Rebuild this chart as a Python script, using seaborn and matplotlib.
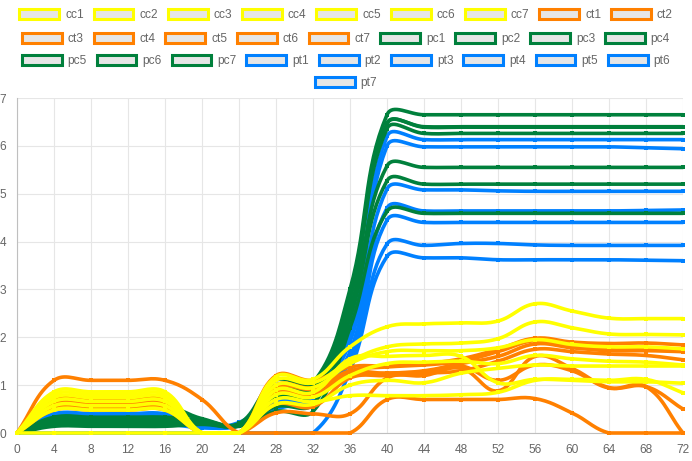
import numpy as np
import pandas as pd
import matplotlib
matplotlib.use("Agg")
import matplotlib.pyplot as plt
from matplotlib.patches import Patch
import seaborn as sns

# sampling hours (x axis)
hours = [0, 4, 8, 12, 16, 20, 24, 28, 32, 36, 40, 44, 48, 52, 56, 60, 64, 68, 72]

# cc series (yellow)
cc1 = [0, 0.86, 0.86, 0.86, 0.86, 0, 0, 1.18, 1.12, 1.80, 2.22, 2.28, 2.30, 2.34, 2.70, 2.55, 2.40, 2.39, 2.39]
cc2 = [0, 0.80, 0.80, 0.80, 0.80, 0, 0, 1.10, 1.05, 1.50, 1.80, 1.86, 1.88, 1.97, 2.32, 2.20, 2.07, 2.06, 2.05]
cc3 = [0, 0.74, 0.74, 0.74, 0.74, 0, 0, 1.00, 0.95, 1.45, 1.70, 1.72, 1.72, 1.78, 1.95, 1.85, 1.80, 1.80, 1.76]
cc4 = [0, 0.66, 0.66, 0.66, 0.66, 0, 0, 0.80, 0.75, 1.20, 1.45, 1.48, 1.50, 1.45, 1.62, 1.55, 1.50, 1.48, 1.42]
cc5 = [0, 0.57, 0.57, 0.57, 0.57, 0, 0, 0.90, 0.85, 1.55, 1.60, 1.62, 1.60, 1.05, 1.12, 1.10, 1.07, 1.07, 1.04]
cc6 = [0, 0.48, 0.48, 0.48, 0.48, 0, 0, 0.70, 0.65, 0.78, 0.78, 0.78, 0.80, 0.85, 1.10, 1.12, 1.10, 1.12, 0.84]
cc7 = [0, 0, 0, 0, 0, 0, 0, 0.60, 0.60, 1.00, 1.10, 1.05, 1.25, 1.35, 1.42, 1.40, 1.40, 1.40, 1.40]

# ct series (orange)
ct1 = [0, 1.10, 1.10, 1.10, 1.10, 0.70, 0, 0, 0, 0, 0.70, 0.70, 0.70, 0.70, 0.72, 0.42, 0, 0, 0]
ct2 = [0, 0.66, 0.66, 0.66, 0.66, 0, 0, 0.42, 0.40, 0.40, 1.15, 1.20, 1.35, 0.88, 1.60, 1.35, 0.95, 0.97, 0.50]
ct3 = [0, 0.62, 0.62, 0.62, 0.62, 0, 0, 0.95, 0.92, 1.20, 1.25, 1.28, 1.40, 1.10, 1.42, 1.30, 0.94, 0.97, 0]
ct4 = [0, 0.57, 0.57, 0.57, 0.57, 0, 0, 1.20, 1.10, 1.38, 1.40, 1.45, 1.55, 1.75, 1.98, 1.90, 1.87, 1.88, 1.84]
ct5 = [0, 0.52, 0.52, 0.52, 0.52, 0, 0, 1.00, 0.95, 1.30, 1.38, 1.42, 1.50, 1.70, 1.93, 1.82, 1.75, 1.76, 1.73]
ct6 = [0, 0.72, 0.72, 0.72, 0.72, 0, 0, 0.85, 0.80, 1.25, 1.25, 1.30, 1.45, 1.60, 1.86, 1.78, 1.72, 1.72, 1.70]
ct7 = [0, 0.48, 0.48, 0.48, 0.48, 0, 0, 0.60, 0.55, 1.15, 1.20, 1.25, 1.30, 1.50, 1.75, 1.70, 1.65, 1.62, 1.53]

# pc series (green)
pc1 = [0, 0.58, 0.58, 0.58, 0.58, 0.30, 0.20, 1.10, 1.05, 3.00, 6.65, 6.65, 6.65, 6.65, 6.65, 6.65, 6.65, 6.65, 6.65]
pc2 = [0, 0.53, 0.53, 0.53, 0.53, 0.28, 0.18, 1.00, 0.95, 2.90, 6.47, 6.39, 6.39, 6.39, 6.39, 6.39, 6.39, 6.39, 6.39]
pc3 = [0, 0.29, 0.29, 0.29, 0.29, 0.25, 0.17, 0.90, 0.90, 2.80, 6.36, 6.26, 6.26, 6.26, 6.26, 6.26, 6.26, 6.26, 6.26]
pc4 = [0, 0.24, 0.24, 0.24, 0.24, 0.22, 0.16, 0.75, 0.80, 2.60, 5.58, 5.55, 5.55, 5.55, 5.55, 5.55, 5.55, 5.55, 5.55]
pc5 = [0, 0.19, 0.19, 0.19, 0.19, 0.20, 0.15, 0.55, 0.60, 2.40, 5.27, 5.20, 5.20, 5.20, 5.20, 5.20, 5.20, 5.20, 5.20]
pc6 = [0, 0.14, 0.14, 0.14, 0.14, 0.18, 0.14, 0.45, 0.45, 2.20, 4.63, 4.59, 4.59, 4.59, 4.59, 4.59, 4.59, 4.59, 4.59]
pc7 = [0, 0.33, 0.33, 0.33, 0.33, 0.26, 0.19, 0.95, 1.00, 2.85, 6.46, 6.40, 6.40, 6.40, 6.40, 6.40, 6.40, 6.40, 6.40]

# pt series (blue)
pt1 = [0, 0.40, 0.40, 0.40, 0.40, 0.15, 0.22, 0.75, 0.95, 2.20, 6.20, 6.13, 6.13, 6.13, 6.13, 6.13, 6.13, 6.13, 6.13]
pt2 = [0, 0.36, 0.36, 0.36, 0.36, 0.14, 0.20, 0.70, 0.90, 2.00, 6.00, 5.98, 5.98, 5.98, 5.98, 5.98, 5.98, 5.96, 5.94]
pt3 = [0, 0.29, 0.29, 0.29, 0.29, 0.13, 0.18, 0.65, 0.85, 1.90, 5.10, 5.08, 5.08, 5.06, 5.05, 5.05, 5.05, 5.05, 5.05]
pt4 = [0, 0.26, 0.26, 0.26, 0.26, 0.12, 0.17, 0.60, 0.80, 1.70, 4.70, 4.64, 4.64, 4.64, 4.64, 4.64, 4.64, 4.65, 4.66]
pt5 = [0, 0.23, 0.23, 0.23, 0.23, 0.12, 0.16, 0.55, 0.75, 1.60, 4.45, 4.40, 4.40, 4.40, 4.40, 4.40, 4.40, 4.40, 4.40]
pt6 = [0, 0.19, 0.19, 0.19, 0.19, 0.11, 0.15, 0.50, 0.70, 1.50, 3.95, 3.92, 3.96, 3.96, 3.93, 3.92, 3.92, 3.92, 3.92]
pt7 = [0, 0, 0, 0, 0, 0, 0, 0, 0, 1.30, 3.69, 3.66, 3.66, 3.62, 3.62, 3.62, 3.62, 3.61, 3.60]

names = ['cc1', 'cc2', 'cc3', 'cc4', 'cc5', 'cc6', 'cc7',
         'ct1', 'ct2', 'ct3', 'ct4', 'ct5', 'ct6', 'ct7',
         'pc1', 'pc2', 'pc3', 'pc4', 'pc5', 'pc6', 'pc7',
         'pt1', 'pt2', 'pt3', 'pt4', 'pt5', 'pt6', 'pt7']
values = [cc1, cc2, cc3, cc4, cc5, cc6, cc7,
          ct1, ct2, ct3, ct4, ct5, ct6, ct7,
          pc1, pc2, pc3, pc4, pc5, pc6, pc7,
          pt1, pt2, pt3, pt4, pt5, pt6, pt7]
group_colors = {'cc': '#ffff00', 'ct': '#ff8000', 'pc': '#00803c', 'pt': '#0080ff'}

XMAX, YMAX = 72, 7
# pixel size of one unit, so the smoothing follows the on-screen aspect
XPX, YPX = 666 / XMAX, 335 / YMAX


def smooth_curve(xs, ys, tension=0.4, steps=16):
    # bezier spline with tension (same idea as Chart.js line smoothing)
    px = np.asarray(xs, float) * XPX
    py = np.asarray(ys, float) * YPX
    n = len(px)
    cp_in = np.zeros((n, 2))
    cp_out = np.zeros((n, 2))
    for i in range(n):
        a, b = max(i - 1, 0), min(i + 1, n - 1)
        d01 = np.hypot(px[i] - px[a], py[i] - py[a])
        d12 = np.hypot(px[b] - px[i], py[b] - py[i])
        tot = d01 + d12
        fa = tension * (d01 / tot if tot else 0)
        fb = tension * (d12 / tot if tot else 0)
        dx, dy = px[b] - px[a], py[b] - py[a]
        cp_in[i] = (px[i] - fa * dx, py[i] - fa * dy)
        cp_out[i] = (px[i] + fb * dx, py[i] + fb * dy)
    for cp in (cp_in, cp_out):
        cp[:, 0] = cp[:, 0].clip(0, XMAX * XPX)
        cp[:, 1] = cp[:, 1].clip(0, YMAX * YPX)
    t = np.linspace(0, 1, steps, endpoint=False)[:, None]
    segs = []
    for i in range(n - 1):
        p0 = np.array([px[i], py[i]])
        p3 = np.array([px[i + 1], py[i + 1]])
        seg = ((1 - t) ** 3 * p0 + 3 * (1 - t) ** 2 * t * cp_out[i]
               + 3 * (1 - t) * t ** 2 * cp_in[i + 1] + t ** 3 * p3)
        segs.append(seg)
    segs.append(np.array([[px[-1], py[-1]]]))
    pts = np.vstack(segs)
    return pts[:, 0] / XPX, pts[:, 1] / YPX


rows = []
curve_rows = []
for name, vals in zip(names, values):
    for h, v in zip(hours, vals):
        rows.append({'series': name, 'hour': h, 'value': v})
    cx, cy = smooth_curve(hours, vals)
    for x, y in zip(cx, cy):
        curve_rows.append({'series': name, 'hour': x, 'value': y})
points = pd.DataFrame(rows)
curves = pd.DataFrame(curve_rows)

sns.set_style('white')
plt.rcParams['font.family'] = ['Liberation Sans', 'DejaVu Sans']

fig = plt.figure(figsize=(6.92, 4.61), dpi=100)
ax = fig.add_axes([17 / 692, 28 / 461, 666 / 692, 335 / 461])

# first dataset ends up on top
for k, name in enumerate(reversed(names)):
    col = group_colors[name[:2]]
    z = 3 + k * 0.01
    sns.lineplot(data=curves[curves.series == name], x='hour', y='value',
                 color=col, linewidth=2.6, sort=False, estimator=None,
                 ax=ax, clip_on=False, zorder=z)
    sns.scatterplot(data=points[points.series == name], x='hour', y='value',
                    color=col, marker='s', s=9, linewidth=0,
                    ax=ax, clip_on=False, zorder=z + 0.005)

ax.set_xlim(0, XMAX)
ax.set_ylim(0, YMAX)
ax.set_xticks(hours)
ax.set_yticks(range(0, 8))
ax.set_xlabel('')
ax.set_ylabel('')
ax.grid(True, color='#e6e6e6', linewidth=0.8)
ax.set_axisbelow(True)
ax.tick_params(axis='both', length=7, width=0.8, color='#e6e6e6',
               labelcolor='#666666', labelsize=8.6, pad=1)
for side in ['top', 'right']:
    ax.spines[side].set_visible(False)
for side in ['left', 'bottom']:
    ax.spines[side].set_color('#bfbfbf')
    ax.spines[side].set_linewidth(0.8)

# legend: four centred rows like the original
legend_rows = [names[0:9], names[9:18], names[18:27], names[27:]]
row_y = [15, 39, 61, 83]
for row, y in zip(legend_rows, row_y):
    handles = [Patch(facecolor='#e6e6e6', edgecolor=group_colors[n[:2]],
                     linewidth=2.2, label=n) for n in row]
    fig.legend(handles=handles, loc='center', bbox_to_anchor=(0.5, 1 - y / 461),
               ncol=len(row), frameon=False, fontsize=8.6, handlelength=3.33,
               handleheight=1.0, handletextpad=0.5, columnspacing=0.83,
               borderpad=0, borderaxespad=0, labelcolor='#666666')

fig.savefig('out.png', dpi=100)
